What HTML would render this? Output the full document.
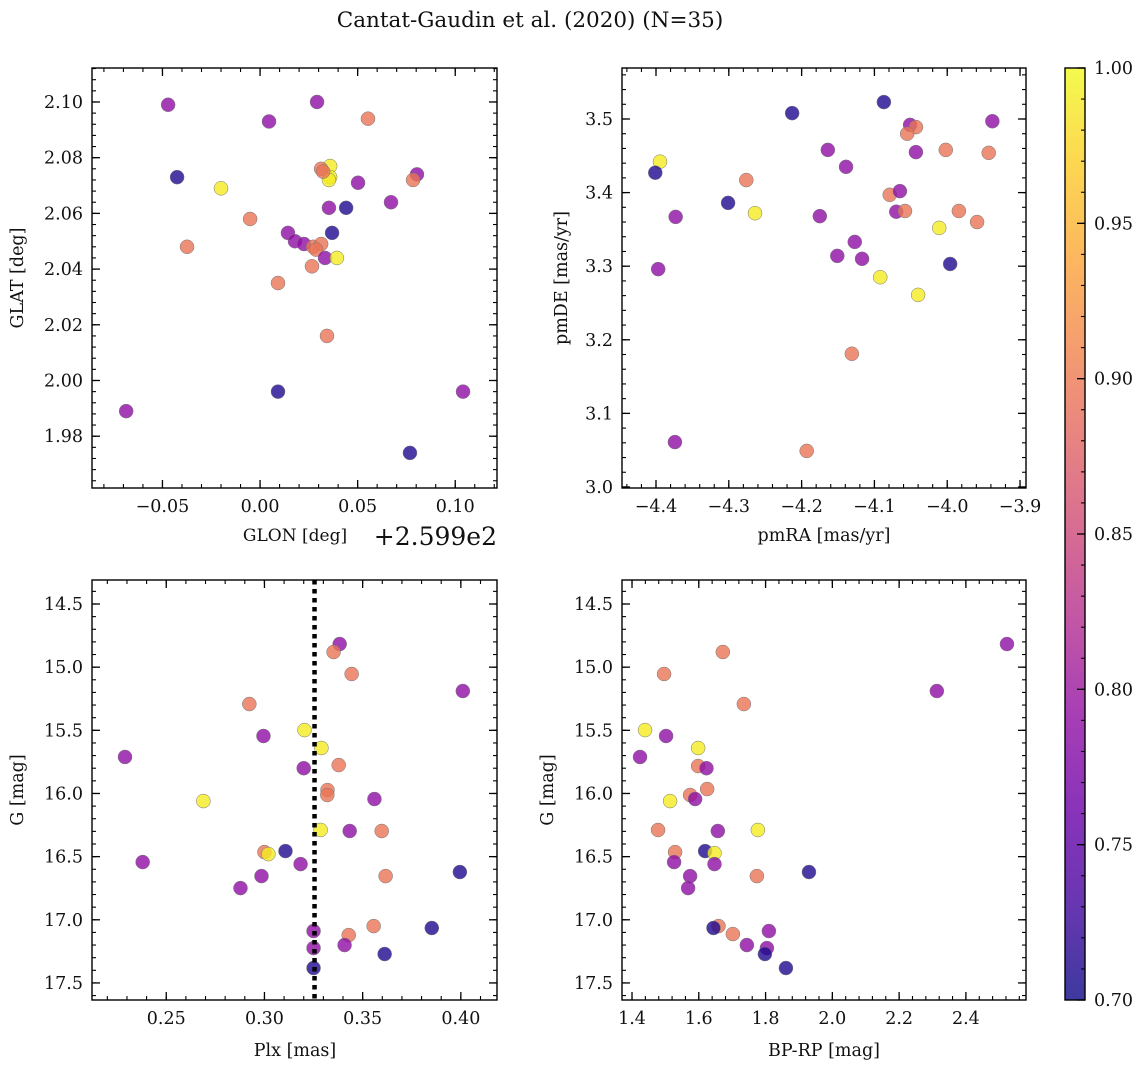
<!DOCTYPE html>
<html><head><meta charset="utf-8"><style>
body{margin:0;background:#fff;}
svg text{font-family:"DejaVu Serif","Liberation Serif",serif;fill:#111;}
</style></head><body>
<svg id="fig" width="1148" height="1067" xmlns="http://www.w3.org/2000/svg">
<text x="530" y="27" font-size="21.5" text-anchor="middle">Cantat-Gaudin et al. (2020) (N=35)</text>
</svg>
<script>
// Panel 1: GLON offset (+259.9) vs GLAT
const glon = [-0.0471,0.0046,0.0292,0.0553,-0.0425,-0.0200,0.0359,0.0359,0.0353,0.0313,0.0323,0.0502,0.0804,0.0784,0.0671,0.0353,0.0441,-0.0051,0.0369,0.0143,-0.0374,0.0179,0.0225,0.0272,0.0313,0.0287,0.0333,0.0394,0.0266,0.0092,0.0343,-0.0686,0.0092,0.1040,0.0768];
const glat = [2.099,2.093,2.100,2.094,2.073,2.069,2.077,2.073,2.072,2.076,2.075,2.071,2.074,2.072,2.064,2.062,2.062,2.058,2.053,2.053,2.048,2.050,2.049,2.048,2.049,2.047,2.044,2.044,2.041,2.035,2.016,1.989,1.996,1.996,1.974];
const prob1 = [0.79,0.79,0.79,0.895,0.71,0.99,0.99,0.99,0.99,0.895,0.895,0.79,0.79,0.895,0.79,0.79,0.71,0.895,0.71,0.79,0.895,0.79,0.79,0.895,0.895,0.895,0.79,0.99,0.895,0.895,0.895,0.79,0.71,0.79,0.71];
// Panel 2: pmRA vs pmDE
const pmra = [-4.3945,-4.401,-4.397,-4.373,-4.301,-4.374,-4.276,-4.264,-4.213,-4.087,-4.164,-4.175,-4.139,-4.127,-4.151,-4.117,-4.131,-4.193,-4.092,-4.079,-4.065,-4.070,-4.058,-4.051,-4.043,-4.055,-4.043,-4.002,-4.011,-3.996,-4.040,-3.984,-3.959,-3.943,-3.938];
const pmde = [3.442,3.427,3.296,3.367,3.386,3.061,3.417,3.372,3.508,3.523,3.458,3.368,3.435,3.333,3.314,3.310,3.181,3.049,3.285,3.397,3.402,3.374,3.375,3.492,3.489,3.480,3.455,3.458,3.352,3.303,3.261,3.375,3.360,3.454,3.497];
const prob2 = [0.99,0.71,0.79,0.79,0.71,0.79,0.895,0.99,0.71,0.71,0.79,0.79,0.79,0.79,0.79,0.79,0.895,0.895,0.99,0.895,0.79,0.79,0.895,0.79,0.895,0.895,0.79,0.895,0.99,0.71,0.99,0.895,0.895,0.895,0.79];
// Panel 3: Plx vs G
const plx = [0.3383,0.3352,0.3444,0.401,0.2923,0.3204,0.2995,0.329,0.229,0.320,0.3378,0.3321,0.332,0.2689,0.356,0.3286,0.3434,0.3597,0.300,0.302,0.3107,0.238,0.3184,0.2985,0.3617,0.3995,0.2878,0.3556,0.3852,0.3429,0.325,0.3408,0.325,0.3612,0.325];
const gmag3 = [14.817,14.88,15.054,15.189,15.292,15.498,15.545,15.64,15.711,15.80,15.775,15.973,16.012,16.06,16.044,16.289,16.297,16.297,16.464,16.48,16.456,16.543,16.559,16.654,16.654,16.622,16.749,17.05,17.065,17.121,17.089,17.20,17.224,17.271,17.382];
const prob3 = [0.79,0.895,0.895,0.79,0.895,0.99,0.79,0.99,0.79,0.79,0.895,0.895,0.895,0.99,0.79,0.99,0.79,0.895,0.895,0.99,0.71,0.79,0.79,0.79,0.895,0.71,0.79,0.895,0.71,0.895,0.79,0.79,0.79,0.71,0.71];
const plxRef = [0.3255];
// Panel 4: BP-RP vs G
const bprp = [2.523,1.672,1.496,2.313,1.735,1.439,1.502,1.598,1.424,1.598,1.623,1.625,1.574,1.589,1.514,1.478,1.657,1.777,1.529,1.619,1.647,1.647,1.526,1.574,1.774,1.930,1.568,1.659,1.644,1.702,1.810,1.744,1.804,1.798,1.861];
const gmag4 = [14.817,14.88,15.054,15.189,15.292,15.498,15.545,15.64,15.711,15.783,15.80,15.965,16.012,16.044,16.06,16.289,16.297,16.289,16.464,16.456,16.472,16.559,16.543,16.654,16.654,16.622,16.749,17.05,17.065,17.113,17.089,17.20,17.224,17.271,17.382];
const prob4 = [0.79,0.895,0.895,0.79,0.895,0.99,0.79,0.99,0.79,0.895,0.79,0.895,0.895,0.79,0.99,0.895,0.79,0.99,0.895,0.71,0.99,0.79,0.79,0.79,0.895,0.71,0.79,0.895,0.71,0.895,0.79,0.79,0.79,0.71,0.71];
const cbTicks = [0.70,0.75,0.80,0.85,0.90,0.95,1.00];

const NS="http://www.w3.org/2000/svg";
const svg=document.getElementById('fig');
const FS=17.5;
function mk(tag,attrs,parent){const e=document.createElementNS(NS,tag);for(const k in attrs)e.setAttribute(k,attrs[k]);(parent||svg).appendChild(e);return e;}
const stops=[[13,8,135],[65,4,157],[106,0,168],[143,13,164],[177,42,144],[204,71,120],[225,100,98],[242,132,75],[252,166,54],[252,206,37],[240,249,33]];
function plasma(t){t=Math.max(0,Math.min(1,t))*10;const i=Math.min(9,Math.floor(t)),f=t-i;const a=stops[i],b=stops[i+1];
 return 'rgb('+a.map((v,j)=>Math.round(v+(b[j]-v)*f)).join(',')+')';}
function cval(p){return plasma((p-0.7)/0.3);}

function panel(name,L,T,R,B,xr,yr,xMaj,xMin,yMaj,yMin,xdec,ydec,xs,ys,ps,invertY){
 const g=mk('g',{});
 
 
 const X=v=>L+(v-xr[0])/(xr[1]-xr[0])*(R-L);
 const Y=invertY?(v=>T+(v-yr[0])/(yr[1]-yr[0])*(B-T)):(v=>B-(v-yr[0])/(yr[1]-yr[0])*(B-T));
 const eps=1e-9;
 function ticks(step,lo,hi){const a=[];for(let v=Math.ceil((lo-eps)/step)*step;v<=hi+eps;v+=step)a.push(+v.toFixed(6));return a;}
 ticks(xMin,xr[0],xr[1]).forEach(v=>{const x=X(v);mk('line',{x1:x,x2:x,y1:B,y2:B-4,stroke:'#000','stroke-width':1.1},g);mk('line',{x1:x,x2:x,y1:T,y2:T+4,stroke:'#000','stroke-width':1.1},g);});
 ticks(yMin,Math.min(...yr),Math.max(...yr)).forEach(v=>{const y=Y(v);mk('line',{x1:L,x2:L+4,y1:y,y2:y,stroke:'#000','stroke-width':1.1},g);mk('line',{x1:R,x2:R-4,y1:y,y2:y,stroke:'#000','stroke-width':1.1},g);});
 ticks(xMaj,xr[0],xr[1]).forEach(v=>{const x=X(v);mk('line',{x1:x,x2:x,y1:B,y2:B-8,stroke:'#000','stroke-width':1.3},g);mk('line',{x1:x,x2:x,y1:T,y2:T+8,stroke:'#000','stroke-width':1.3},g);
  const t=mk('text',{x:x,y:B+24,'font-size':FS,'text-anchor':'middle'},g);t.textContent=(v<0?'\u2212':'')+Math.abs(v).toFixed(xdec);
  
  });
 ticks(yMaj,Math.min(...yr),Math.max(...yr)).forEach(v=>{const y=Y(v);mk('line',{x1:L,x2:L+8,y1:y,y2:y,stroke:'#000','stroke-width':1.3},g);mk('line',{x1:R,x2:R-8,y1:y,y2:y,stroke:'#000','stroke-width':1.3},g);
  const t=mk('text',{x:L-9,y:y+6,'font-size':FS,'text-anchor':'end'},g);t.textContent=v.toFixed(ydec);
  
  });
 for(let i=0;i<xs.length;i++){
  const c=mk('circle',{cx:X(xs[i]),cy:Y(ys[i]),r:7,fill:cval(ps[i]),'fill-opacity':0.8,stroke:'#777','stroke-width':0.5},g);
  
  
 }
 const fr=mk('rect',{x:L,y:T,width:R-L,height:B-T,fill:'none',stroke:'#000','stroke-width':1.4},g);
 
 
 return {X,Y,g};
}
function label(txt,x,y,rot,name,size){const t=mk('text',{x:x,y:y,'font-size':size||FS,'text-anchor':'middle'});if(rot)t.setAttribute('transform','rotate(-90 '+x+' '+y+')');t.textContent=txt;
 
 return t;}

panel('glon-glat-panel',92,68,497,488,[-0.0861,0.1214],[1.9614,2.1122],0.05,0.01,0.02,0.004,2,2,glon,glat,prob1,false);
label('GLON [deg]',295,541,false,'x-axis-title-glon',17);
const off=mk('text',{x:497,y:545,'font-size':25,'text-anchor':'end'});off.textContent='+2.599e2';


label('GLAT [deg]',23,278,true,'y-axis-title-glat');

panel('pm-panel',622,68,1026,488,[-4.4467,-3.8918],[2.9986,3.5693],0.1,0.02,0.1,0.02,1,1,pmra,pmde,prob2,false);
label('pmRA [mas/yr]',824,541,false,'x-axis-title-pmra');
label('pmDE [mas/yr]',567,278,true,'y-axis-title-pmde');

const p3=panel('plx-g-panel',92,580,497,1000,[0.2122,0.4184],[14.31,17.635],0.05,0.01,0.5,0.1,2,1,plx,gmag3,prob3,true);
plxRef.forEach(v=>{const l=mk('line',{x1:p3.X(v),x2:p3.X(v),y1:580,y2:1000,stroke:'#000','stroke-width':4.5,'stroke-dasharray':'4.5,4.5'});
 
 });
label('Plx [mas]',295,1056,false,'x-axis-title-plx');
label('G [mag]',23,790,true,'y-axis-title-g');

panel('color-g-panel',622,580,1026,1000,[1.370,2.580],[14.31,17.635],0.2,0.04,0.5,0.1,1,1,bprp,gmag4,prob4,true);
label('BP-RP [mag]',824,1056,false,'x-axis-title-bprp');
label('G [mag]',553,790,true,'y-axis-title-g2');

// colorbar
const cb=mk('g',{});


const defs=mk('defs',{});const lg=mk('linearGradient',{id:'cbg',x1:0,y1:1,x2:0,y2:0},defs);
for(let i=0;i<=10;i++)mk('stop',{offset:i/10,'stop-color':plasma(i/10)},lg);
mk('rect',{x:1065,y:68,width:20,height:932,fill:'url(#cbg)','fill-opacity':0.8},cb);
mk('rect',{x:1065,y:68,width:20,height:932,fill:'none',stroke:'#000','stroke-width':1.4},cb);
const CY=v=>1000-(v-0.7)/0.3*932;
for(let v=0.70;v<=1.0001;v+=0.01){const y=CY(v);mk('line',{x1:1085,x2:1081,y1:y,y2:y,stroke:'#000','stroke-width':1.1},cb);}
cbTicks.forEach(v=>{const y=CY(v);mk('line',{x1:1085,x2:1077,y1:y,y2:y,stroke:'#000','stroke-width':1.3},cb);
 const t=mk('text',{x:1094,y:y+6,'font-size':FS},cb);t.textContent=v.toFixed(2);
 
 });
</script>
</body></html>
